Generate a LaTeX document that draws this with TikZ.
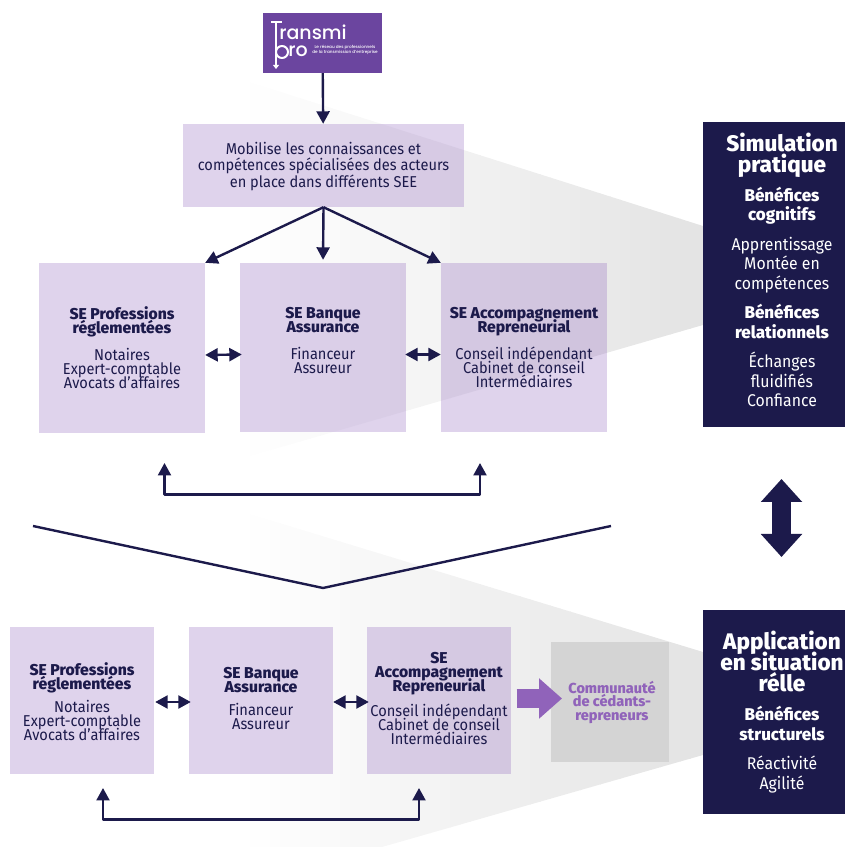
\documentclass[tikz,border=0pt]{standalone}
\usepackage{fontspec}
\setmainfont{Fira Sans}[FakeStretch=0.93,BoldFont={Fira Sans ExtraBold},BoldFeatures={FakeStretch=1}]
\newfontfamily\logofont{Poppins Medium}
\usepackage{tikz}
\usetikzlibrary{arrows.meta}
\definecolor{navy}{HTML}{1C1A4B}
\definecolor{mauve}{HTML}{946CC0}
\definecolor{logopurple}{HTML}{6B459F}
\definecolor{arrowpurple}{HTML}{9063BA}
\definecolor{fadegray}{HTML}{E3E3E3}
\newcommand{\tete}[1]{{\bfseries #1}}
\newcommand{\grand}[1]{{\fontsize{22.5bp}{21bp}\selectfont\bfseries #1}}
\newcommand{\serre}{\setlength{\lineskiplimit}{-100pt}}
\newcommand{\fadeband}[1]{%
 \begin{scope}[x=1bp,y=1bp]
  \clip #1;
  \foreach \n [evaluate=\n as \pct using \n*100/46] in {0,...,46}
   \fill[fadegray!\pct!white] (240+10*\n,0) rectangle (251+10*\n,847);
 \end{scope}}

\begin{document}
\begin{tikzpicture}[>={Triangle[length=12.5bp,width=13bp]},line join=bevel]
 \tikzstyle{every node}=[inner sep=0pt,align=center,text=navy]
 \tikzstyle{sebox}=[fill=mauve,fill opacity=0.3,text opacity=1,font=\fontsize{15.7bp}{14bp}\selectfont\serre]
 \tikzstyle{panel}=[fill=navy,text=white,font=\fontsize{17bp}{19.5bp}\selectfont\serre]
 \tikzstyle{link}=[navy,line width=2.4bp]
 \useasboundingbox (0bp,0bp) rectangle (845bp,847bp);

 % fades behind the two rows
 \fadeband{(240,768) -- (703,621) -- (703,522) -- (240,388) -- cycle}
 \fadeband{(240,336) -- (703,195) -- (703,92) -- (382,0) -- (240,0) -- cycle}

 \node (logo) at (322.5bp,804bp) [fill=logopurple,minimum width=119bp,minimum height=60bp] {};
 \node (top) at (323.5bp,681.5bp) [sebox,minimum width=281bp,minimum height=83bp,font=\fontsize{15.7bp}{16.5bp}\selectfont\serre] {\rule{0pt}{14bp}Mobilise les connaissances et\\compétences spécialisées des acteurs\\en place dans différents SEE};

 \node (pro) at (122bp,499bp) [sebox,minimum width=166bp,minimum height=170bp] {\tete{SE Professions}\\\tete{réglementées}\\[13bp]Notaires\\Expert-comptable\\Avocats d’affaires};
 \node (bank) at (323bp,499.5bp) [sebox,minimum width=166bp,minimum height=169bp] {\tete{SE Banque}\\\tete{Assurance}\\[13bp]Financeur\\Assureur\\\mbox{}};
 \node (acc) at (524bp,499.5bp) [sebox,minimum width=166bp,minimum height=169bp] {\tete{SE Accompagnement}\\\tete{Repreneurial}\\[13bp]Conseil indépendant\\Cabinet de conseil\\Intermédiaires};

 \node (sim) at (782bp,572.5bp) [panel,minimum width=158bp,minimum height=305bp] {\grand{Simulation}\\[1.5bp]\grand{pratique}\\[9bp]\tete{Bénéfices}\\\tete{cognitifs}\\[10bp]Apprentissage\\Montée en\\compétences\\[10bp]\tete{Bénéfices}\\\tete{relationnels}\\[10bp]Échanges\\fluidifiés\\Confiance\\[-11bp]\mbox{}};
 \node (app) at (782bp,135bp) [panel,minimum width=158bp,minimum height=204bp] {\grand{Application}\\[1.5bp]\grand{en situation}\\[1.5bp]\grand{rélle}\\[9.5bp]\tete{Bénéfices}\\\tete{structurels}\\[10bp]Réactivité\\Agilité};

 \node (pro2) at (82bp,146.5bp) [sebox,minimum width=144bp,minimum height=147bp] {\rule{0pt}{15.5bp}\tete{SE Professions}\\\tete{réglementées}\\[9bp]Notaires\\Expert-comptable\\Avocats d’affaires};
 \node (bank2) at (261bp,146.5bp) [sebox,minimum width=144bp,minimum height=147bp] {\tete{SE Banque}\\\tete{Assurance}\\[9bp]Financeur\\Assureur\\[-10bp]\mbox{}};
 \node (acc2) at (439bp,146.5bp) [sebox,minimum width=144bp,minimum height=147bp] {\tete{SE}\\\tete{Accompagnement}\\\tete{Repreneurial}\\[11bp]Conseil indépendant\\Cabinet de conseil\\Intermédiaires\\[-10bp]\mbox{}};
 \node (comm) at (610bp,145bp) [fill=black!17,minimum width=118bp,minimum height=120bp,text=arrowpurple,font=\fontsize{14.5bp}{13.5bp}\selectfont\bfseries\serre] {\hspace{4bp}Communauté\\\hspace{4bp}de cédants-\\\hspace{4bp}repreneurs};

 % logo lettering
 \node (logoa) at (313bp,814.5bp) [text=white,font=\logofont\fontsize{19bp}{19bp}\selectfont] {ransmi};
 \node (logob) at (298bp,795.5bp) [text=white,font=\logofont\fontsize{19bp}{19bp}\selectfont] {ro};
 \node (logoc) at (345bp,797bp) [text=white,font=\logofont\fontsize{4.2bp}{5.2bp}\selectfont] {Le réseau des professionnels\\de la transmission d’entreprise};

 \coordinate (tbar) at (271bp,825bp);
 \coordinate (tbarb) at (282bp,825bp);
 \coordinate (tstem) at (276bp,825bp);
 \coordinate (tfoot) at (276bp,778bp);
 \coordinate (tbowl) at (282bp,795bp);
 \draw[white,line width=2bp] (tbar) -- (tbarb);
 \draw[white,line width=2bp,-{Triangle[length=4bp,width=6bp]}] (tstem) -- (tfoot);
 \draw[white,line width=2bp] (tbowl) circle (6bp);

 % chevron between the rows
 \coordinate (chevl) at (33bp,321bp);
 \coordinate (chevm) at (323bp,259bp);
 \coordinate (chevr) at (611bp,321bp);
 \draw[link] (chevl) -- (chevm) -- (chevr);

 \draw[link,->] (logo) -- (top);
 \draw[link,->] (top.south) -- (pro.north east);
 \draw[link,->,shorten >=3bp] (top.south) -- (bank.north);
 \draw[link,->] (top.south) -- (acc.north west);
 \draw[link,<->] ([yshift=-7bp]pro.east) -- ([yshift=-7bp,xshift=2bp]bank.west);
 \draw[link,<->] ([yshift=-7bp,xshift=-1bp]bank.east) -- ([yshift=-7bp]acc.west);
 \draw[link,<->] ([yshift=-1.5bp,xshift=1bp]pro2.east) -- ([yshift=-1.5bp,xshift=2bp]bank2.west);
 \draw[link,<->] ([yshift=-1.5bp]bank2.east) -- ([yshift=-1.5bp,xshift=2bp]acc2.west);

 \coordinate (loopa) at (164.5bp,384bp);
 \coordinate (loopb) at (164.5bp,352.5bp);
 \coordinate (loopc) at (480bp,352.5bp);
 \coordinate (loopd) at (480bp,384bp);
 \draw[link,<->] (loopa) -- (loopb) -- (loopc) -- (loopd);
 \coordinate (loope) at (103bp,59bp);
 \coordinate (loopf) at (103bp,27.5bp);
 \coordinate (loopg) at (419bp,27.5bp);
 \coordinate (looph) at (419bp,59bp);
 \draw[link,<->] (loope) -- (loopf) -- (loopg) -- (looph);

 \coordinate (flowa) at (516.5bp,148.5bp);
 \coordinate (flowb) at (562bp,148.5bp);
 \draw[arrowpurple,line width=19bp,-{Triangle[length=23bp,width=39bp]}] (flowa) -- (flowb);
 \coordinate (simb) at (781.5bp,368bp);
 \coordinate (appt) at (781.5bp,290bp);
 \draw[navy,line width=19bp,{Triangle[length=23bp,width=40bp]}-{Triangle[length=23bp,width=40bp]}] (simb) -- (appt);
\end{tikzpicture}
\end{document}
